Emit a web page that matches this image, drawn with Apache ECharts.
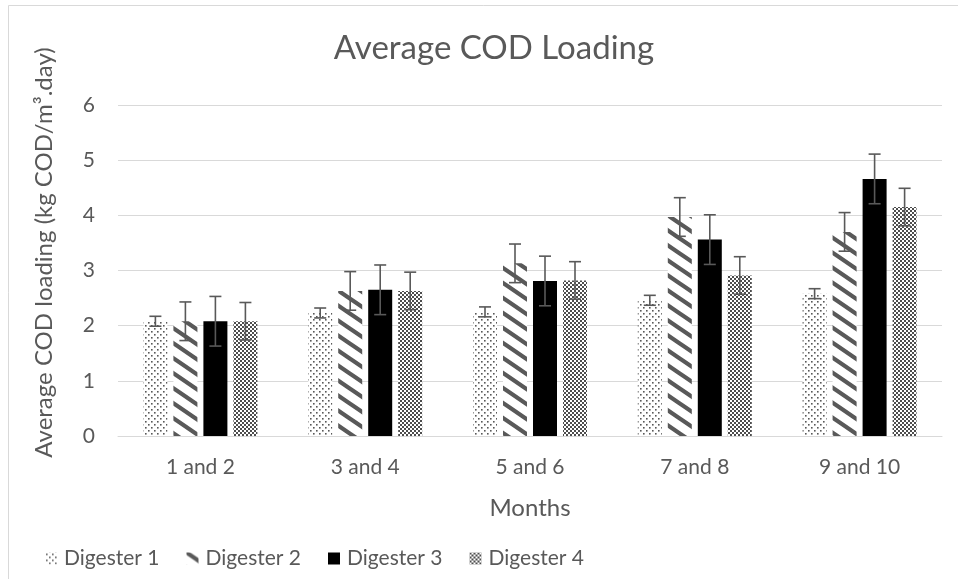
<!DOCTYPE html>
<html>
<head>
<meta charset="utf-8">
<script src="https://cdn.jsdelivr.net/npm/echarts@6/dist/echarts.min.js"></script>
<style>
html,body{margin:0;padding:0;background:#fff;}
#chart{width:958px;height:579px;}
</style>
</head>
<body>
<div id="chart"></div>
<script>
// ---- data ----
const categories = ['1 and 2', '3 and 4', '5 and 6', '7 and 8', '9 and 10'];
const seriesNames = ['Digester 1', 'Digester 2', 'Digester 3', 'Digester 4'];
const digester1 = [2.08, 2.23, 2.25, 2.46, 2.58];
const digester2 = [2.08, 2.63, 3.13, 3.97, 3.70];
const digester3 = [2.08, 2.65, 2.81, 3.56, 4.66];
const digester4 = [2.08, 2.63, 2.82, 2.91, 4.15];
const error1 = [0.09, 0.09, 0.09, 0.09, 0.09];
const error2 = [0.35, 0.35, 0.35, 0.35, 0.35];
const error3 = [0.45, 0.45, 0.45, 0.45, 0.45];
const error4 = [0.34, 0.34, 0.34, 0.34, 0.34];
const yTicks = [0, 1, 2, 3, 4, 5, 6];

const values = [digester1, digester2, digester3, digester4];
const errors = [error1, error2, error3, error4];

// ---- patterns ----
function makeTile(w, h, draw) {
  const c = document.createElement('canvas');
  c.width = w; c.height = h;
  const ctx = c.getContext('2d');
  ctx.fillStyle = '#ffffff';
  ctx.fillRect(0, 0, w, h);
  draw(ctx);
  return { image: c, repeat: 'repeat' };
}
const dotPattern = makeTile(6, 6, ctx => {
  ctx.fillStyle = '#595959';
  ctx.fillRect(1, 1, 1.6, 1.6);
  ctx.fillRect(4, 4, 1.6, 1.6);
});
const stripePattern = makeTile(22, 15, ctx => {
  ctx.strokeStyle = '#595959';
  ctx.lineWidth = 4.2;
  ctx.beginPath();
  for (let s = -2; s <= 2; s++) {
    ctx.moveTo(-22 + s * 22, -15);
    ctx.lineTo(44 + s * 22, 30);
  }
  ctx.stroke();
});
const checkPattern = makeTile(4, 4, ctx => {
  ctx.fillStyle = '#4d4d4d';
  ctx.fillRect(0, 0, 2, 2);
  ctx.fillRect(2, 2, 2, 2);
});
const fills = [dotPattern, stripePattern, '#000000', checkPattern];

const FONT = 'Lato';
const TXT = '#595959';
const BAR_W = 24;
const BAR_STEP = 30;

const series = [];
seriesNames.forEach((name, k) => {
  series.push({
    name: name,
    type: 'bar',
    data: values[k],
    barWidth: BAR_W,
    barGap: '25%',
    itemStyle: { color: fills[k] },
    emphasis: { disabled: true },
    z: 2
  });
});
seriesNames.forEach((name, k) => {
  const offset = (k - 1.5) * BAR_STEP;
  series.push({
    name: name + ' error',
    type: 'custom',
    data: values[k].map((v, i) => [i, v - errors[k][i], v + errors[k][i]]),
    z: 5,
    silent: true,
    renderItem: function (params, api) {
      const lo = api.coord([api.value(0), api.value(1)]);
      const hi = api.coord([api.value(0), api.value(2)]);
      const x = lo[0] + offset;
      const cap = 6;
      const st = { stroke: '#595959', lineWidth: 1.6, fill: null };
      return {
        type: 'group',
        children: [
          { type: 'line', shape: { x1: x, y1: lo[1], x2: x, y2: hi[1] }, style: st },
          { type: 'line', shape: { x1: x - cap, y1: lo[1], x2: x + cap, y2: lo[1] }, style: st },
          { type: 'line', shape: { x1: x - cap, y1: hi[1], x2: x + cap, y2: hi[1] }, style: st }
        ]
      };
    }
  });
});

const chart = echarts.init(document.getElementById('chart'), null, { renderer: 'canvas' });
chart.setOption({
  animation: false,
  backgroundColor: '#ffffff',
  textStyle: { fontFamily: FONT },
  title: {
    text: 'Average COD Loading',
    left: 489,
    textAlign: 'center',
    top: 27,
    textStyle: { fontFamily: FONT, fontSize: 33, fontWeight: 'normal', color: TXT }
  },
  graphic: [{
    type: 'rect',
    shape: { x: 8.5, y: 5.5, width: 960, height: 600 },
    style: { fill: null, stroke: '#d9d9d9', lineWidth: 1 },
    silent: true,
    z: -1
  }],
  legend: {
    data: seriesNames,
    left: 40,
    top: 543,
    itemWidth: 12,
    itemHeight: 12,
    itemGap: 27,
    icon: 'rect',
    textStyle: { fontFamily: FONT, fontSize: 21, color: TXT, padding: [0, 0, 0, 2] }
  },
  grid: { left: 118, right: 16, top: 105, bottom: 143 },
  xAxis: {
    type: 'category',
    data: categories,
    name: 'Months',
    nameLocation: 'middle',
    nameGap: 60,
    nameTextStyle: { fontFamily: FONT, fontSize: 24, color: TXT },
    axisLine: { show: true, lineStyle: { color: '#d9d9d9', width: 1 } },
    axisTick: { show: false },
    axisLabel: { fontFamily: FONT, fontSize: 21, color: TXT, margin: 21 }
  },
  yAxis: {
    type: 'value',
    min: yTicks[0],
    max: yTicks[yTicks.length - 1],
    interval: 1,
    name: 'Average COD loading (kg COD/m³.day)',
    nameLocation: 'middle',
    nameGap: 62,
    nameTextStyle: { fontFamily: FONT, fontSize: 24, color: TXT, padding: [0, 0, 0, 36] },
    axisLine: { show: false },
    axisTick: { show: false },
    splitLine: { lineStyle: { color: '#d9d9d9', width: 1 } },
    axisLabel: { fontFamily: FONT, fontSize: 21, color: TXT, margin: 23 }
  },
  series: series
});
</script>
</body>
</html>
